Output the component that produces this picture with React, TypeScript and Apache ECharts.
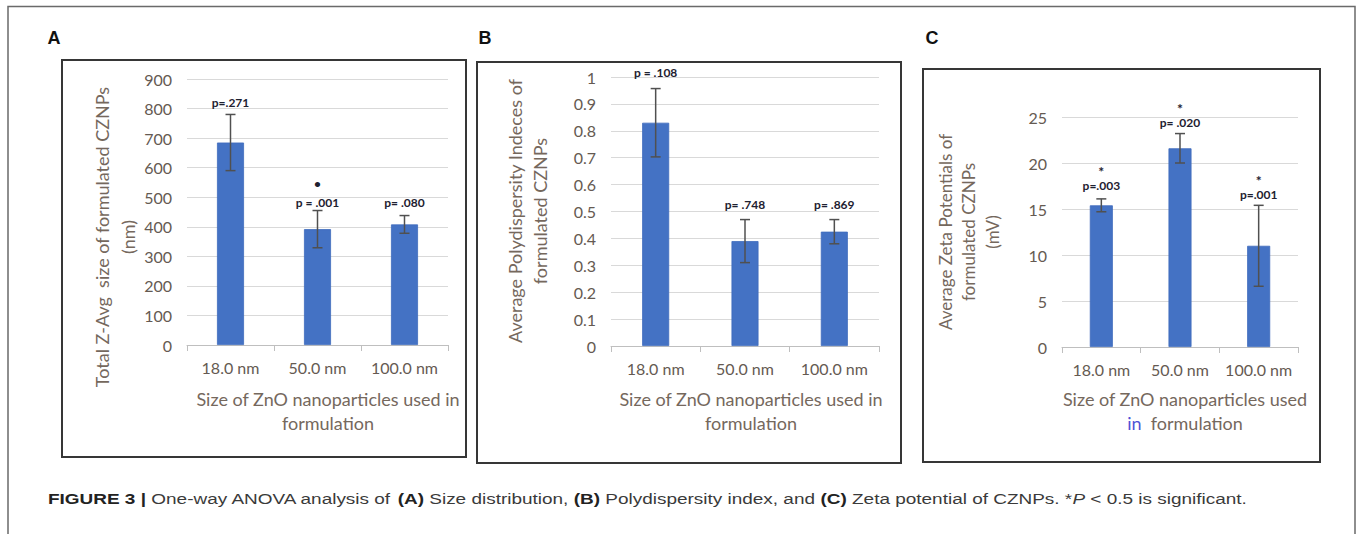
import React, { useEffect, useRef } from "react";
import * as echarts from "echarts";

// ---------- data ----------
const categories = ["18.0 nm", "50.0 nm", "100.0 nm"];

const sizeMeans = [685, 392, 408];
const sizeErrors = [95, 63, 30];
const sizePLabels = ["p=.271", "p = .001", "p= .080"];
const sizeMarks = ["", "•", ""];

const pdiMeans = [0.83, 0.39, 0.425];
const pdiErrors = [0.127, 0.08, 0.045];
const pdiPLabels = ["p = .108", "p= .748", "p= .869"];
const pdiMarks = ["", "", ""];

const zetaMeans = [15.4, 21.6, 11.0];
const zetaErrors = [0.7, 1.6, 4.4];
const zetaPLabels = ["p=.003", "p= .020", "p=.001"];
const zetaMarks = ["*", "*", "*"];

const sizeTicks = { min: 0, max: 900, interval: 100 };
const pdiTicks = { min: 0, max: 1, interval: 0.1 };
const zetaTicks = { min: 0, max: 25, interval: 5 };

// ---------- styles ----------
const FONT = "Lato";
const BAR = "#4472C4";
const TICK_COLOR = "#655a52";
const TITLE_COLOR = "#75685d";
const LABEL_COLOR = "#1e2130";

const panels = [
  {
    grid: { left: 187, top: 79, width: 261, height: 266 },
    barWidth: 27,
    labelGap: [12, 8, 13],
    markGap: 19,
  },
  {
    grid: { left: 611, top: 77, width: 268, height: 269 },
    barWidth: 27,
    labelGap: [16, 15, 15],
    markGap: 14,
  },
  {
    grid: { left: 1062, top: 117, width: 236, height: 230 },
    barWidth: 23,
    labelGap: [13, 11, 11],
    markGap: 14,
  },
];

function measure(text: string, font: string): number {
  const c = document.createElement("canvas");
  const ctx = c.getContext("2d");
  if (!ctx) return text.length * 6;
  ctx.font = font;
  return ctx.measureText(text).width;
}

export default function App() {
  const ref = useRef<HTMLDivElement>(null);

  useEffect(() => {
    if (!ref.current) return;
    const chart = echarts.init(ref.current, undefined, { renderer: "svg" });

    const datasets = [
      { means: sizeMeans, errs: sizeErrors, p: sizePLabels, marks: sizeMarks, ticks: sizeTicks },
      { means: pdiMeans, errs: pdiErrors, p: pdiPLabels, marks: pdiMarks, ticks: pdiTicks },
      { means: zetaMeans, errs: zetaErrors, p: zetaPLabels, marks: zetaMarks, ticks: zetaTicks },
    ];

    const xAxis = panels.map((_, i) => ({
      gridIndex: i,
      type: "category",
      data: categories,
      axisLine: { lineStyle: { color: "#bfbfbf", width: 1 } },
      axisTick: { show: true, length: 6, interval: 0, lineStyle: { color: "#bfbfbf" } },
      axisLabel: { color: TICK_COLOR, fontFamily: FONT, fontSize: 16, margin: 14, interval: 0 },
      splitLine: { show: false },
    }));

    const yAxis = datasets.map((d, i) => ({
      gridIndex: i,
      type: "value",
      min: d.ticks.min,
      max: d.ticks.max,
      interval: d.ticks.interval,
      axisLine: { show: false },
      axisTick: { show: false },
      axisLabel: { color: TICK_COLOR, fontFamily: FONT, fontSize: 16, margin: 15 },
      splitLine: { lineStyle: { color: "#d9d9d9", width: 1 } },
    }));

    const series: any[] = [];
    datasets.forEach((d, i) => {
      const p = panels[i];
      series.push({
        type: "bar",
        xAxisIndex: i,
        yAxisIndex: i,
        data: d.means,
        barWidth: p.barWidth,
        itemStyle: { color: BAR, borderColor: "#3f6bbd", borderWidth: 0.8 },
        silent: true,
      });
      series.push({
        type: "custom",
        xAxisIndex: i,
        yAxisIndex: i,
        data: d.means.map((m, k) => [k, m, d.errs[k]]),
        encode: { x: 0, y: 1 },
        silent: true,
        z: 5,
        renderItem: (params: any, api: any) => {
          const idx = api.value(0);
          const mean = api.value(1);
          const err = api.value(2);
          const top = api.coord([idx, mean + err]);
          const bot = api.coord([idx, mean - err]);
          const cx = top[0];
          const stroke = { stroke: "#505050", lineWidth: 1.5 };
          const k = params.dataIndex;
          const ly = top[1] - p.labelGap[k];
          const children: any[] = [
            { type: "line", shape: { x1: cx, y1: top[1], x2: cx, y2: bot[1] }, style: stroke },
            { type: "line", shape: { x1: cx - 5, y1: top[1], x2: cx + 5, y2: top[1] }, style: stroke },
            { type: "line", shape: { x1: cx - 5, y1: bot[1], x2: cx + 5, y2: bot[1] }, style: stroke },
            {
              type: "text",
              x: cx,
              y: ly,
              style: {
                text: d.p[k],
                fill: LABEL_COLOR,
                fontFamily: FONT,
                fontWeight: "bold",
                fontSize: 12,
                lineHeight: 12,
                align: "center",
                verticalAlign: "middle",
              },
            },
          ];
          if (d.marks[k]) {
            const isStar = d.marks[k] === "*";
            children.push({
              type: "text",
              x: cx,
              y: ly - p.markGap,
              style: {
                text: d.marks[k],
                fill: LABEL_COLOR,
                fontFamily: FONT,
                fontWeight: "bold",
                fontSize: isStar ? 14 : 12,
                lineHeight: isStar ? 14 : 12,
                align: "center",
                verticalAlign: "middle",
              },
            });
          }
          return { type: "group", children };
        },
      });
    });

    // caption
    const capSize = 14;
    const capFont = '"Liberation Sans"';
    const capParts: [string, string][] = [
      ["b", "FIGURE 3 | "],
      ["r", "One-way ANOVA analysis of "],
      ["b", "(A)"],
      ["r", " Size distribution, "],
      ["b", "(B)"],
      ["r", " Polydispersity index, and "],
      ["b", "(C)"],
      ["r", " Zeta potential of CZNPs. *"],
      ["i", "P"],
      ["r", " < 0.5 is significant."],
    ];
    let capWidth = 0;
    capParts.forEach(([s, t]) => {
      const f =
        s === "b" ? `bold ${capSize}px ${capFont}` : s === "i" ? `italic ${capSize}px ${capFont}` : `${capSize}px ${capFont}`;
      capWidth += measure(t, f);
    });
    const capScale = capWidth > 0 ? 1199 / capWidth : 1;
    const capText = capParts.map(([s, t]) => `{${s}|${t}}`).join("");

    const titleStyle = (text: string, lineHeight: number, size: number, rich?: any) => ({
      text,
      fill: TITLE_COLOR,
      fontFamily: FONT,
      fontSize: size,
      lineHeight,
      align: "center",
      verticalAlign: "middle",
      rich,
    });

    const boxStyle = { fill: "none", stroke: "#363636", lineWidth: 2 };

    const graphic: any[] = [
      {
        type: "polyline",
        shape: { points: [[8, 540], [8, 6.5], [1355, 6.5], [1355, 540]] },
        style: { fill: "none", stroke: "#6a6a6a", lineWidth: 1.5 },
        silent: true,
      },
      { type: "rect", shape: { x: 62, y: 60, width: 404, height: 397 }, style: boxStyle, silent: true },
      { type: "rect", shape: { x: 477, y: 62, width: 424, height: 401 }, style: boxStyle, silent: true },
      { type: "rect", shape: { x: 923, y: 69, width: 397, height: 393 }, style: boxStyle, silent: true },
      ...[
        ["A", 54],
        ["B", 485],
        ["C", 932],
      ].map(([t, x]) => ({
        type: "text",
        x,
        y: 38,
        style: {
          text: t,
          fill: "#111",
          fontFamily: '"Liberation Sans"',
          fontWeight: "bold",
          fontSize: 18,
          align: "center",
          verticalAlign: "middle",
        },
        silent: true,
      })),
      // y-axis titles
      {
        type: "text",
        x: 115,
        y: 237,
        rotation: Math.PI / 2,
        style: titleStyle("Total Z-Avg  size of formulated CZNPs\n(nm)", 26, 18),
        silent: true,
      },
      {
        type: "text",
        x: 527.5,
        y: 211,
        rotation: Math.PI / 2,
        style: titleStyle("Average Polydispersity Indeces of\nformulated CZNPs", 25, 18),
        silent: true,
      },
      {
        type: "text",
        x: 968.5,
        y: 232,
        rotation: Math.PI / 2,
        style: titleStyle("Average Zeta Potentials of\nformulated CZNPs\n(mV)", 23.5, 17),
        silent: true,
      },
      // x-axis titles
      {
        type: "text",
        x: 328,
        y: 411,
        style: titleStyle("Size of ZnO nanoparticles used in\nformulation", 24, 18),
        silent: true,
      },
      {
        type: "text",
        x: 751,
        y: 411,
        style: titleStyle("Size of ZnO nanoparticles used in\nformulation", 24, 18),
        silent: true,
      },
      {
        type: "text",
        x: 1185,
        y: 411,
        style: titleStyle("Size of ZnO nanoparticles used\n{blue|in}  formulation", 24, 18, {
          blue: { fill: "#4f52d6", fontFamily: FONT, fontSize: 18, lineHeight: 24 },
        }),
        silent: true,
      },
      // caption
      {
        type: "group",
        x: 48,
        y: 499,
        scaleX: capScale,
        silent: true,
        children: [
          {
            type: "text",
            x: 0,
            y: 0,
            style: {
              text: capText,
              align: "left",
              verticalAlign: "middle",
              fontSize: capSize,
              fontFamily: capFont,
              fill: "#333",
              rich: {
                b: { fontWeight: "bold", fontSize: capSize, fontFamily: capFont, fill: "#222" },
                r: { fontSize: capSize, fontFamily: capFont, fill: "#3a3a3a" },
                i: { fontStyle: "italic", fontSize: capSize, fontFamily: capFont, fill: "#3a3a3a" },
              },
            },
          },
        ],
      },
    ];

    chart.setOption({
      animation: false,
      backgroundColor: "#ffffff",
      grid: panels.map((p) => ({ ...p.grid, containLabel: false })),
      xAxis,
      yAxis,
      series,
      graphic,
    });

    return () => chart.dispose();
  }, []);

  return (
    <div
      ref={ref}
      style={{ position: "absolute", left: 0, top: 0, width: 1357, height: 534 }}
    />
  );
}
